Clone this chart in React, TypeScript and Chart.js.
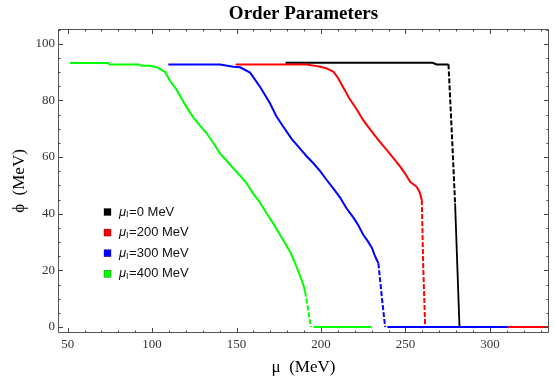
import React, { useEffect, useRef } from "react";
import { Chart, registerables } from "chart.js";

Chart.register(...registerables);

const SERIF = "'Liberation Serif', 'Times New Roman', Times, serif";
const SANS = "'Liberation Sans', Arial, Helvetica, sans-serif";

const chartTitle = "Order Parameters";

// ---- axis ticks ----
const xTicks = [50, 100, 150, 200, 250, 300];
const xMinorTicks = [50, 60, 70, 80, 90, 100, 110, 120, 130, 140, 150, 160, 170, 180, 190, 200, 210, 220, 230, 240, 250, 260, 270, 280, 290, 300, 310, 320, 330];
const yTicks = [0, 20, 40, 60, 80, 100];
const yMinorTicks = [0, 5, 10, 15, 20, 25, 30, 35, 40, 45, 50, 55, 60, 65, 70, 75, 80, 85, 90, 95, 100, 105];

// ---- legend ----
const legendValues = ["0", "200", "300", "400"];
const seriesColors = ["#000000", "#ff0000", "#0000ff", "#00ff00"];

// ---- mu_I = 0 MeV (black) ----
const black1Mu = [179, 266, 268.5, 275.5];
const black1Phi = [93.3, 93.3, 92.7, 92.7];
const blackDashMu = [275.5, 277.5, 279.4];
const blackDashPhi = [92.7, 68, 43.7];
const black2Mu = [279.4, 282];
const black2Phi = [43.7, 0];

// ---- mu_I = 200 MeV (red) ----
const red1Mu = [149.5, 191.6, 197.5, 199.5, 203.4, 207.4, 210, 213.3, 217, 221.2, 225, 229.1, 234, 238.9, 243, 246.9, 250, 252.8, 256.7, 258.5, 259.7];
const red1Phi = [92.7, 92.7, 92.1, 91.9, 91.3, 90.1, 88, 84.5, 80.5, 76.8, 73, 69.8, 66, 62.5, 59.5, 56.6, 54, 51.3, 49.5, 47.5, 44.8];
const redDashMu = [259.7, 260.5, 261.7];
const redDashPhi = [44.8, 22, 0];
const red2Mu = [261.7, 336];
const red2Phi = [0, 0];

// ---- mu_I = 300 MeV (blue) ----
const blue1Mu = [109.6, 140.2, 148.1, 152.1, 158, 163.9, 169.8, 173.5, 177.7, 182.5, 187.6, 191.5, 195.5, 199.5, 203.4, 207.5, 211.3, 215, 219.2, 222, 225.1, 227.5, 230.1, 232, 234];
const blue1Phi = [92.7, 92.7, 91.9, 91.7, 89.8, 84.8, 79, 74.5, 70.7, 66.5, 63, 60.3, 57.8, 55, 51.9, 48.8, 45.7, 42, 38.6, 36, 32.5, 30.5, 28, 25, 22.5];
const blueDashMu = [234, 236, 238];
const blueDashPhi = [22.5, 10.7, 0];
const blue2Mu = [239.3, 310.4];
const blue2Phi = [0, 0];

// ---- mu_I = 400 MeV (green) ----
const green1Mu = [51.4, 74, 75, 92.4, 93.8, 98.7, 102.7, 107.6, 110.5, 114.6, 119.5, 124.4, 128.5, 132.3, 136.5, 140.2, 144, 148.1, 152, 156, 160, 163.9, 167.9, 171.8, 175.8, 178.8, 181.7, 184, 185.7, 188, 189.6, 190.6];
const green1Phi = [93.2, 93.2, 92.7, 92.7, 92.2, 92.2, 91.7, 90.1, 87, 83.7, 78.5, 74, 71, 68.4, 64.8, 61.3, 58.8, 56, 53.5, 50.7, 47, 43.9, 40.1, 36.5, 32.5, 29.5, 26.6, 23.5, 21, 17.5, 14.8, 12.5];
const greenDashMu = [190.6, 192.3, 194];
const greenDashPhi = [12.5, 6.5, 0];
const green2Mu = [195.5, 230];
const green2Phi = [0, 0];

function seg(xs: number[], ys: number[], color: string, dashed: boolean, order: number, width = 2) {
  return {
    data: xs.map((x, i) => ({ x, y: ys[i] })),
    borderColor: color,
    backgroundColor: color,
    borderWidth: width,
    borderDash: dashed ? [5, 2] : [],
    pointRadius: 0,
    fill: false,
    tension: 0,
    order,
  };
}

const titlePlugin = {
  id: "centeredTitle",
  afterDraw(chart: any) {
    const { ctx, chartArea } = chart;
    ctx.save();
    ctx.font = `bold 19px ${SERIF}`;
    ctx.fillStyle = "#000";
    ctx.textAlign = "center";
    ctx.textBaseline = "alphabetic";
    ctx.fillText(chartTitle, (chartArea.left + chartArea.right) / 2, 19);
    ctx.restore();
  },
};

const frameTicksPlugin = {
  id: "frameTicks",
  afterDatasetsDraw(chart: any) {
    const { ctx, chartArea, scales } = chart;
    const { left, right, top, bottom } = chartArea;
    const xs = scales.x;
    const ys = scales.y;
    ctx.save();
    ctx.strokeStyle = "#555";
    ctx.lineWidth = 1;
    ctx.beginPath();
    ctx.rect(Math.round(left) + 0.5, Math.round(top) + 0.5, Math.round(right - left) - 1, Math.round(bottom - top) - 1);
    ctx.stroke();
    ctx.strokeStyle = "#444";
    ctx.beginPath();
    xMinorTicks.forEach((v) => {
      const p = Math.round(xs.getPixelForValue(v)) + 0.5;
      const len = xTicks.includes(v) ? 5 : 2.5;
      ctx.moveTo(p, bottom);
      ctx.lineTo(p, bottom - len);
      ctx.moveTo(p, top);
      ctx.lineTo(p, top + len);
    });
    yMinorTicks.forEach((v) => {
      const p = Math.round(ys.getPixelForValue(v)) + 0.5;
      const len = yTicks.includes(v) ? 5 : 2.5;
      ctx.moveTo(left, p);
      ctx.lineTo(left + len, p);
      ctx.moveTo(right, p);
      ctx.lineTo(right - len, p);
    });
    ctx.stroke();
    ctx.restore();
  },
};

const legendPlugin = {
  id: "innerLegend",
  afterDraw(chart: any) {
    const { ctx, chartArea } = chart;
    const x0 = chartArea.left + 46;
    const y0 = chartArea.top + 183;
    ctx.save();
    ctx.textBaseline = "middle";
    ctx.textAlign = "left";
    legendValues.forEach((val, i) => {
      const cy = y0 + i * 20.6;
      ctx.fillStyle = seriesColors[i];
      ctx.fillRect(x0, cy - 3.5, 7, 7);
      ctx.strokeStyle = "rgba(0,0,0,0.5)";
      ctx.lineWidth = 0.6;
      ctx.strokeRect(x0, cy - 3.5, 7, 7);
      let tx = x0 + 15;
      ctx.fillStyle = "#111";
      ctx.font = `italic 13px ${SANS}`;
      ctx.fillText("μ", tx, cy);
      tx += ctx.measureText("μ").width;
      ctx.font = `9px ${SANS}`;
      ctx.fillText("I", tx, cy + 3);
      tx += ctx.measureText("I").width + 0.5;
      ctx.font = `13px ${SANS}`;
      ctx.fillText("=" + val + " MeV", tx, cy);
    });
    ctx.restore();
  },
};

export default function App() {
  const canvasRef = useRef<HTMLCanvasElement | null>(null);

  useEffect(() => {
    if (!canvasRef.current) return;
    const datasets = [
      seg(green1Mu, green1Phi, seriesColors[3], false, 1),
      seg(greenDashMu, greenDashPhi, seriesColors[3], true, 1),
      seg(green2Mu, green2Phi, seriesColors[3], false, 1),
      seg(blue1Mu, blue1Phi, seriesColors[2], false, 2),
      seg(blueDashMu, blueDashPhi, seriesColors[2], true, 2),
      seg(blue2Mu, blue2Phi, seriesColors[2], false, 2),
      seg(red1Mu, red1Phi, seriesColors[1], false, 3),
      seg(redDashMu, redDashPhi, seriesColors[1], true, 3),
      seg(red2Mu, red2Phi, seriesColors[1], false, 3),
      seg(black1Mu, black1Phi, seriesColors[0], false, 4),
      seg(blackDashMu, blackDashPhi, seriesColors[0], true, 4),
      seg(black2Mu, black2Phi, seriesColors[0], false, 4, 1.8),
    ];
    const chart = new Chart(canvasRef.current, {
      type: "line",
      data: { datasets: datasets as any },
      options: {
        animation: false,
        responsive: false,
        maintainAspectRatio: false,
        layout: { padding: { left: 0, right: 6, top: 29, bottom: 0 } },
        plugins: {
          legend: { display: false },
          tooltip: { enabled: false },
          title: { display: false },
        },
        scales: {
          x: {
            type: "linear",
            min: 44.3,
            max: 335,
            grid: { display: false, drawTicks: false },
            border: { display: false },
            afterBuildTicks: (s: any) => {
              s.ticks = xTicks.map((v) => ({ value: v }));
            },
            afterFit: (s: any) => {
              s.height = 58;
            },
            ticks: {
              font: { family: SERIF, size: 13 },
              color: "#333",
              padding: 4,
              maxRotation: 0,
              autoSkip: false,
            },
            title: {
              display: true,
              text: "μ  (MeV)",
              color: "#000",
              font: { family: SERIF, size: 17 },
              padding: { top: 0, bottom: 12.8 },
            },
          },
          y: {
            type: "linear",
            min: -2.1,
            max: 105.2,
            grid: { display: false, drawTicks: false },
            border: { display: false },
            afterBuildTicks: (s: any) => {
              s.ticks = yTicks.map((v) => ({ value: v }));
            },
            afterFit: (s: any) => {
              s.width = 58;
            },
            ticks: {
              font: { family: SERIF, size: 13 },
              color: "#333",
              padding: 3,
              autoSkip: false,
            },
            title: {
              display: true,
              text: "ϕ  (MeV)",
              color: "#000",
              font: { family: SERIF, size: 17 },
              padding: { top: 9, bottom: 0 },
            },
          },
        },
      } as any,
      plugins: [frameTicksPlugin, legendPlugin, titlePlugin],
    });
    return () => chart.destroy();
  }, []);

  return (
    <div style={{ position: "absolute", left: 0, top: 0, width: 555, height: 391, background: "#fff" }}>
      <canvas ref={canvasRef} width={555} height={391} style={{ display: "block", width: 555, height: 391 }} />
    </div>
  );
}
